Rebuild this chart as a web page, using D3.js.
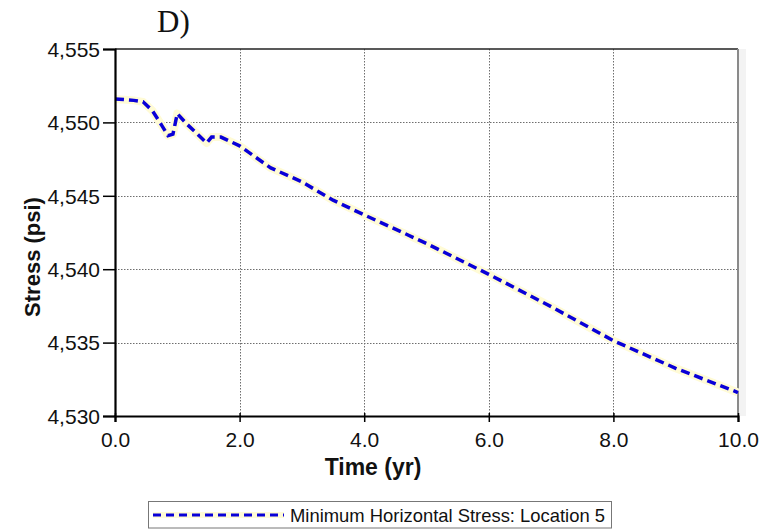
<!DOCTYPE html>
<html>
<head>
<meta charset="utf-8">
<script src="https://cdn.jsdelivr.net/npm/d3@7"></script>
<style>
  html, body { margin: 0; padding: 0; background: #fff; }
  svg { display: block; }
</style>
</head>
<body>
<svg id="chart" width="771" height="530"></svg>
<script>
// ---- data ----
const times = [0, 0.3, 0.45, 0.6, 0.75, 0.85, 0.93, 1.0, 1.15, 1.3, 1.47, 1.55, 1.7, 2.0, 2.5, 3.0, 3.5, 4.0, 5.0, 6.0, 7.0, 8.0, 9.0, 10.0];
const stress = [4551.6, 4551.5, 4551.4, 4550.8, 4549.8, 4549.1, 4549.2, 4550.6, 4549.9, 4549.3, 4548.6, 4549.0, 4549.0, 4548.4, 4546.9, 4545.95, 4544.7, 4543.7, 4541.75, 4539.65, 4537.45, 4535.13, 4533.25, 4531.6];
const xTicks = [0, 2, 4, 6, 8, 10];
const yTicks = [4530, 4535, 4540, 4545, 4550, 4555];
const seriesName = "Minimum Horizontal Stress: Location 5";
const panelLabel = "D)";
const xTitle = "Time (yr)";
const yTitle = "Stress (psi)";

// ---- layout ----
const svg = d3.select("#chart");
const L = 115, R = 738, T = 49, B = 416;
const x = d3.scaleLinear().domain([0, 10]).range([L, R]);
const y = d3.scaleLinear().domain([4530, 4555]).range([B, T]);
const fmtY = d3.format(",");
const fmtX = d3.format(".1f");
const sans = "Arial, 'Liberation Sans', Helvetica, sans-serif";

// faint shade right of plot
svg.append("rect").attr("x", R + 1).attr("y", T).attr("width", 7).attr("height", B - T).attr("fill", "#f3f3f3");

// gridlines
const grid = svg.append("g").attr("stroke", "#6e6e6e").attr("stroke-width", 1).attr("stroke-dasharray", "1.5,1.5");
grid.selectAll("line.vx").data(xTicks.filter(d => d > 0 && d < 10)).join("line")
  .attr("x1", d => Math.round(x(d)) + 0.5).attr("x2", d => Math.round(x(d)) + 0.5)
  .attr("y1", T).attr("y2", B);
grid.selectAll("line.hy").data(yTicks.filter(d => d > 4530 && d < 4555)).join("line")
  .attr("x1", L).attr("x2", R)
  .attr("y1", d => Math.round(y(d)) + 0.5).attr("y2", d => Math.round(y(d)) + 0.5);

// frame
svg.append("line").attr("x1", L).attr("x2", R).attr("y1", T).attr("y2", T).attr("stroke", "#222").attr("stroke-width", 1.5);
svg.append("line").attr("x1", R).attr("x2", R).attr("y1", T).attr("y2", B).attr("stroke", "#8a8a8a").attr("stroke-width", 2);

// series
const line = d3.line().x((d, i) => x(times[i])).y(d => y(d));
svg.append("path").datum(stress).attr("d", line)
  .attr("fill", "none").attr("stroke", "#fffbd6").attr("stroke-width", 8).attr("stroke-linejoin", "round");
svg.append("path").datum(stress).attr("d", line)
  .attr("fill", "none").attr("stroke", "#0a00d8").attr("stroke-width", 3.5)
  .attr("stroke-dasharray", "9,5");

// axes
const yAxis = d3.axisLeft(y).tickValues(yTicks).tickFormat(fmtY).tickSize(12).tickPadding(3);
const gy = svg.append("g").attr("transform", `translate(${L},0)`).call(yAxis);
gy.select(".domain").attr("stroke", "#000").attr("stroke-width", 2.2);
gy.selectAll(".tick line").attr("stroke", "#000").attr("stroke-width", 1.5);
gy.selectAll(".tick text").attr("font-family", sans).attr("font-size", 21).attr("fill", "#111").attr("dy", "0.35em");

const xAxis = d3.axisBottom(x).tickValues(xTicks).tickFormat(fmtX).tickSize(6).tickPadding(10);
const gx = svg.append("g").attr("transform", `translate(0,${B})`).call(xAxis);
gx.select(".domain").attr("stroke", "#000").attr("stroke-width", 2.2);
gx.selectAll(".tick line").attr("stroke", "#000").attr("stroke-width", 1.5).attr("y1", -3);
gx.selectAll(".tick text").attr("font-family", sans).attr("font-size", 21).attr("fill", "#111");

// titles
svg.append("text").attr("x", 373).attr("y", 475).attr("text-anchor", "middle")
  .attr("font-family", sans).attr("font-weight", "bold").attr("font-size", 23).attr("fill", "#111").text(xTitle);
svg.append("text").attr("transform", "translate(40,257) rotate(-90)").attr("text-anchor", "middle")
  .attr("font-family", sans).attr("font-weight", "bold").attr("font-size", 22).attr("fill", "#111").text(yTitle);
svg.append("text").attr("x", 157).attr("y", 32)
  .attr("font-family", "'Times New Roman', 'Liberation Serif', serif").attr("font-size", 31).attr("fill", "#111").text(panelLabel);

// legend
const lg = svg.append("g");
lg.append("rect").attr("x", 148.5).attr("y", 501.5).attr("width", 463).attr("height", 26.5)
  .attr("fill", "#fff").attr("stroke", "#777").attr("stroke-width", 1);
lg.append("line").attr("x1", 153).attr("x2", 284).attr("y1", 515).attr("y2", 515)
  .attr("stroke", "#fffbd6").attr("stroke-width", 6);
lg.append("line").attr("x1", 153).attr("x2", 284).attr("y1", 515).attr("y2", 515)
  .attr("stroke", "#0a00d8").attr("stroke-width", 3).attr("stroke-dasharray", "8,5");
lg.append("text").attr("x", 290).attr("y", 522).attr("font-family", sans).attr("font-size", 19)
  .attr("fill", "#111").attr("textLength", 315).attr("lengthAdjust", "spacingAndGlyphs").text(seriesName);
</script>
</body>
</html>
